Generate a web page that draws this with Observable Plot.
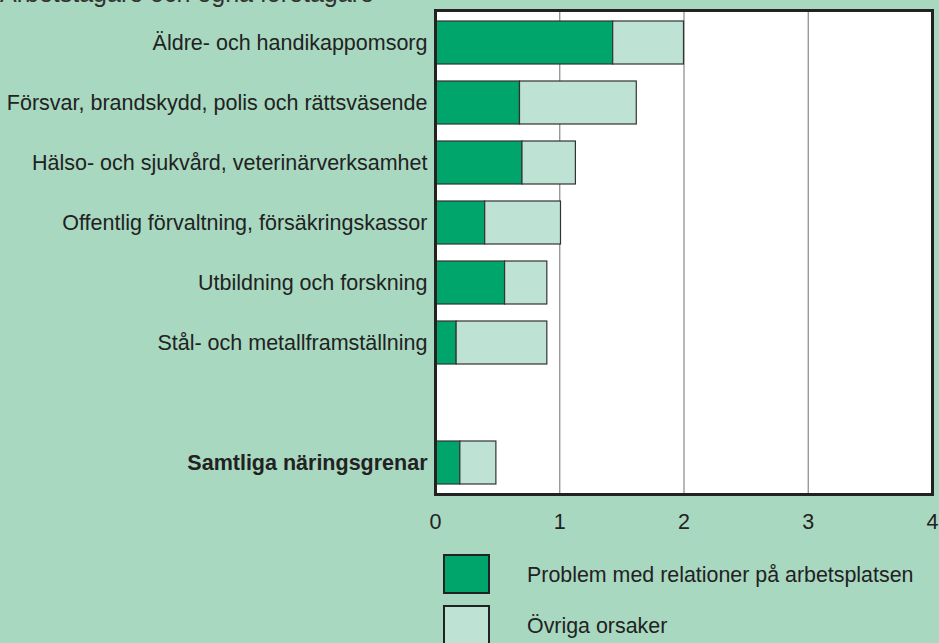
<!DOCTYPE html>
<html><head><meta charset="utf-8">
<script src="https://cdn.jsdelivr.net/npm/d3@7"></script>
<script src="https://cdn.jsdelivr.net/npm/@observablehq/plot@0.6"></script>
<style>
html,body{margin:0;padding:0;background:#a8d8c0;width:939px;height:643px;overflow:hidden;font-family:"Liberation Sans",Arial,sans-serif;color:#222;}
#wrap{position:relative;width:939px;height:643px;overflow:hidden;}
#title{position:absolute;left:0;top:-19px;font-size:25px;line-height:25px;white-space:nowrap;color:#333;}
#chart{position:absolute;left:0;top:0;}
.leg{position:absolute;left:443px;width:47px;height:40px;box-sizing:border-box;border:2.5px solid #222;}
.legtxt{position:absolute;left:527px;font-size:21.4px;line-height:21px;white-space:nowrap;}
</style></head>
<body>
<div id="wrap">
  <div id="title">Arbetstagare och egna företagare</div>
  <div id="chart"></div>
  <div class="leg" id="leg0" style="top:554px"></div>
  <div class="legtxt" id="legt0" style="top:564.5px"></div>
  <div class="leg" id="leg1" style="top:605px"></div>
  <div class="legtxt" id="legt1" style="top:615.5px"></div>
</div>
<script>
const categories = [
  "Äldre- och handikappomsorg",
  "Försvar, brandskydd, polis och rättsväsende",
  "Hälso- och sjukvård, veterinärverksamhet",
  "Offentlig förvaltning, försäkringskassor",
  "Utbildning och forskning",
  "Stål- och metallframställning",
  "",
  "Samtliga näringsgrenar"
];
const relations = [1.43, 0.68, 0.70, 0.40, 0.56, 0.17, null, 0.20];
const other     = [0.57, 0.94, 0.43, 0.61, 0.34, 0.73, null, 0.29];
const seriesNames = ["Problem med relationer på arbetsplatsen", "Övriga orsaker"];
const seriesColors = ["#00a56c", "#bee2d4"];
const xTicks = [0, 1, 2, 3, 4];

const rows = [];
categories.forEach((c, i) => {
  if (relations[i] != null) {
    rows.push({cat: c, series: seriesNames[0], value: relations[i]});
    rows.push({cat: c, series: seriesNames[1], value: other[i]});
  }
});

const chart = Plot.plot({
  width: 939, height: 545,
  marginLeft: 435, marginRight: 7, marginTop: 10, marginBottom: 51,
  style: {background: "transparent", fontFamily: "'Liberation Sans', Arial, sans-serif", fontSize: "21.5px", color: "#222", overflow: "visible"},
  x: {domain: [0, 4], label: null},
  y: {domain: categories, paddingInner: 0.29, paddingOuter: 0.145, label: null},
  color: {domain: seriesNames, range: seriesColors},
  marks: [
    Plot.frame({fill: "white", stroke: "none"}),
    Plot.ruleX(xTicks.slice(1, -1), {stroke: "#888", strokeWidth: 1.2}),
    Plot.barX(rows, Plot.stackX({x: "value", y: "cat", fill: "series", order: seriesNames, stroke: "#333", strokeWidth: 1.2})),
    Plot.axisX({ticks: xTicks, tickFormat: d3.format("d"), tickSize: 0, tickPadding: 19, fontSize: 21.5, label: null}),
    Plot.axisY({tickSize: 0, tickPadding: 8, fontSize: 21.5, label: null, tickFormat: d => d}),
    Plot.frame({stroke: "#222", strokeWidth: 3})
  ]
});
d3.select(chart).selectAll("text")
  .filter(function() { return this.textContent === "Samtliga näringsgrenar"; })
  .attr("font-weight", "bold");
document.getElementById("chart").appendChild(chart);

seriesNames.forEach((s, i) => {
  document.getElementById("leg" + i).style.background = seriesColors[i];
  document.getElementById("legt" + i).textContent = s;
});
</script>
</body></html>
